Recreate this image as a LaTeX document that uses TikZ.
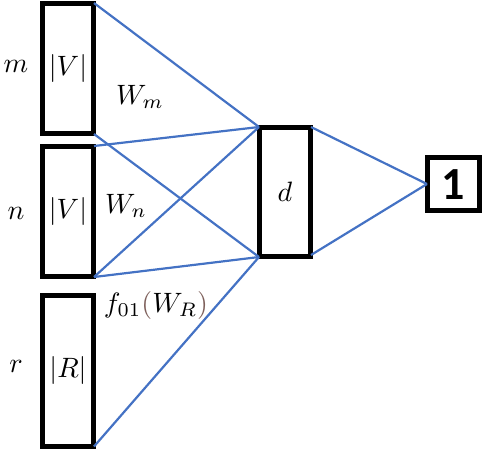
\documentclass[tikz,border=0pt]{standalone}
\usepackage{graphicx}
\usepackage{fontspec}
\newfontfamily\onefont{Carlito}
\newcommand{\bigmath}[1]{\scalebox{2.8}{$#1$}}
\begin{document}
\begin{tikzpicture}[x=1pt,y=-1pt,
  box/.style={draw=black,line width=5pt,inner sep=0pt,minimum width=51pt},
  conn/.style={draw={rgb,255:red,68;green,114;blue,196},line width=2.2pt},
  lbl/.style={inner sep=0pt}]
\definecolor{paren}{RGB}{125,95,90}
\useasboundingbox (0,0) rectangle (484,451);
\node[box,minimum height=130pt] (m) at (68,68.5) {};
\node[box,minimum height=130pt] (n) at (68,211.5) {};
\node[box,minimum height=151pt] (r) at (68,370.5) {};
\node[box,minimum height=129pt] (d) at (285,192) {};
\node[box,minimum width=52pt,minimum height=53pt] (one) at (453.5,184) {};
\node[lbl] at (m.center) {\bigmath{|V|}};
\node[lbl] at (n.center) {\bigmath{|V|}};
\node[lbl] at (r.center) {\bigmath{|R|}};
\node[lbl] at (d.center) {\bigmath{d}};
\node[inner sep=0pt,font=\onefont\bfseries\fontsize{46}{52}\selectfont] at ([yshift=-1pt]one.center) {1};
\node[lbl] (lm) at (16,66) {\bigmath{m}};
\node[lbl] (ln) at (16,213) {\bigmath{n}};
\node[lbl] (lr) at (16,366) {\bigmath{r}};
\node[lbl] (wm) at (140,97) {\bigmath{W_m}};
\node[lbl] (wn) at (126,206) {\bigmath{W_n}};
\node[lbl] (wr) at (156,305) {\bigmath{f_{01}\textcolor{paren}{(}W_R\textcolor{paren}{)}}};
\coordinate (mtr) at ([xshift=-2pt,yshift=-2pt]m.north east);
\coordinate (mbr) at ([xshift=-2pt,yshift=2pt]m.south east);
\coordinate (ntr) at ([xshift=-2pt,yshift=-2pt]n.north east);
\coordinate (nbr) at ([xshift=-2pt,yshift=2pt]n.south east);
\coordinate (rbr) at ([xshift=-2pt,yshift=2pt]r.south east);
\coordinate (dtl) at ([xshift=2pt,yshift=-2pt]d.north west);
\coordinate (dbl) at ([xshift=2pt,yshift=2pt]d.south west);
\coordinate (dtr) at ([xshift=-2pt,yshift=-2pt]d.north east);
\coordinate (dbr) at ([xshift=-2pt,yshift=4pt]d.south east);
\coordinate (ol) at ([xshift=2pt]one.west);
\draw[conn] (mtr) -- (dtl);
\draw[conn] (mbr) -- (dbl);
\draw[conn] (ntr) -- (dtl);
\draw[conn] (nbr) -- (dtl);
\draw[conn] (nbr) -- (dbl);
\draw[conn] (rbr) -- (dbl);
\draw[conn] (dtr) -- (ol);
\draw[conn] (dbr) -- (ol);
\end{tikzpicture}
\end{document}
